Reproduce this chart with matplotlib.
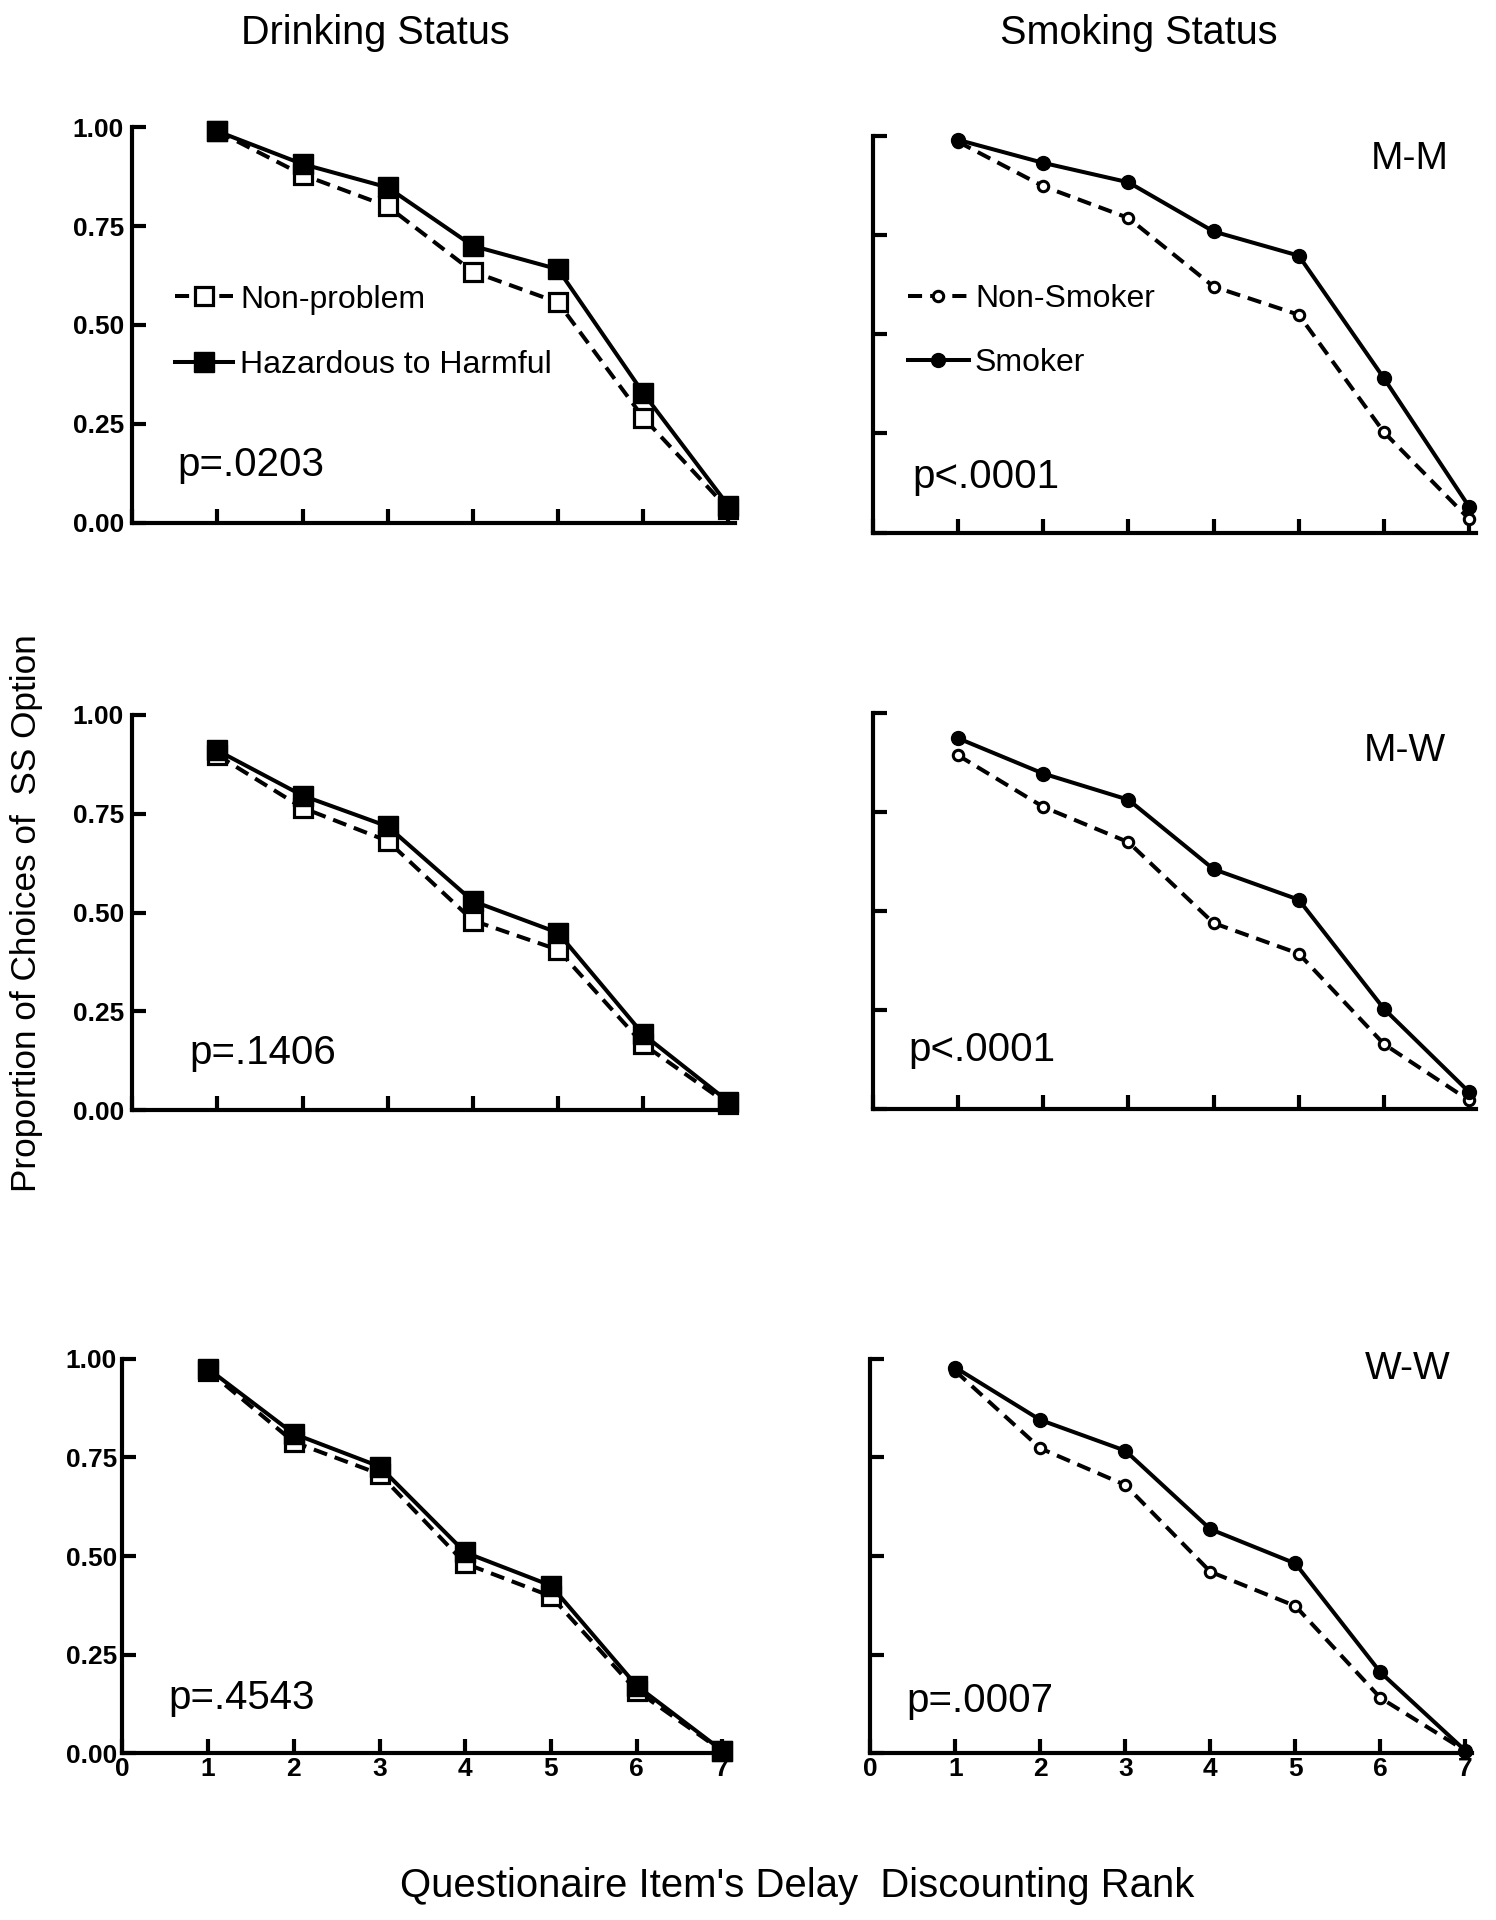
import matplotlib
matplotlib.use("Agg")
import matplotlib.pyplot as plt
from matplotlib import font_manager

# ---- data ----
RANK = [1, 2, 3, 4, 5, 6, 7]
X_TICKS = [0, 1, 2, 3, 4, 5, 6, 7]
Y_TICKS = [0.0, 0.25, 0.5, 0.75, 1.0]
Y_TICK_LABELS = ["0.00", "0.25", "0.50", "0.75", "1.00"]

DRINK_LABELS = ["Non-problem", "Hazardous to Harmful"]
SMOKE_LABELS = ["Non-Smoker", "Smoker"]
PAIR_LABELS = ["M-M", "M-W", "W-W"]

drink_mm_nonproblem = [0.99, 0.88, 0.80, 0.635, 0.557, 0.266, 0.034]
drink_mm_hazardous = [0.99, 0.907, 0.848, 0.70, 0.641, 0.328, 0.043]
smoke_mm_nonsmoker = [0.985, 0.873, 0.793, 0.62, 0.549, 0.253, 0.034]
smoke_mm_smoker = [0.99, 0.932, 0.883, 0.759, 0.698, 0.389, 0.065]

drink_mw_nonproblem = [0.898, 0.765, 0.681, 0.48, 0.406, 0.167, 0.015]
drink_mw_hazardous = [0.91, 0.796, 0.718, 0.529, 0.449, 0.192, 0.022]
smoke_mw_nonsmoker = [0.892, 0.762, 0.673, 0.469, 0.392, 0.164, 0.022]
smoke_mw_smoker = [0.935, 0.846, 0.78, 0.605, 0.528, 0.253, 0.043]

drink_ww_nonproblem = [0.97, 0.789, 0.708, 0.481, 0.398, 0.158, 0.005]
drink_ww_hazardous = [0.975, 0.81, 0.727, 0.509, 0.425, 0.171, 0.006]
smoke_ww_nonsmoker = [0.969, 0.773, 0.68, 0.46, 0.373, 0.14, 0.006]
smoke_ww_smoker = [0.978, 0.845, 0.767, 0.568, 0.481, 0.205, 0.006]

P_DRINK = ["p=.0203", "p=.1406", "p=.4543"]
P_SMOKE = ["p<.0001", "p<.0001", "p=.0007"]

# ---- layout (pixels in the 1496x1920 canvas) ----
W, H = 1496, 1920
# left, top, width, bottom
RECTS = {
    "tl": (132.2, 127.3, 603.0, 522.7),
    "tr": (872.9, 135.9, 603.0, 532.5),
    "ml": (132.2, 714.9, 603.0, 1110.3),
    "mr": (872.9, 712.5, 603.0, 1109.1),
    "bl": (122.4, 1358.9, 606.8, 1753.1),
    "br": (870.4, 1358.9, 601.8, 1753.1),
}

avail = {f.name for f in font_manager.fontManager.ttflist}
SANS = "Liberation Sans" if "Liberation Sans" in avail else "DejaVu Sans"
NARROW = "Liberation Sans Narrow" if "Liberation Sans Narrow" in avail else SANS
plt.rcParams["font.family"] = SANS

LW = 2.9


def add_axes(fig, key):
    left, top, width, bottom = RECTS[key]
    return fig.add_axes([left / W, 1 - bottom / H, width / W, (bottom - top) / H])


def style_axes(ax, show_ylabels, show_xlabels, ypad):
    ax.set_xlim(0, 7.08)
    ax.set_ylim(0, 1.0)
    for side in ("top", "right"):
        ax.spines[side].set_visible(False)
    for side in ("left", "bottom"):
        ax.spines[side].set_linewidth(3.0)
    ax.set_xticks(X_TICKS)
    ax.set_yticks(Y_TICKS)
    ax.tick_params(direction="in", length=10, width=3.0)
    ax.tick_params(axis="y", pad=ypad)
    ax.tick_params(axis="x", pad=3)
    if show_ylabels:
        ax.set_yticklabels(Y_TICK_LABELS, fontsize=19, fontweight="bold", family=NARROW)
    else:
        ax.set_yticklabels([])
    if show_xlabels:
        ax.set_xticklabels([str(t) for t in X_TICKS], fontsize=19, fontweight="bold", family=NARROW)
    else:
        ax.set_xticklabels([])


def plot_drink(ax, nonproblem, hazardous):
    ax.plot(RANK, nonproblem, linestyle=(0, (3.5, 2)), color="black", linewidth=LW,
            marker="s", markersize=12.5, markerfacecolor="white", markeredgecolor="black",
            markeredgewidth=2.3, clip_on=False, label=DRINK_LABELS[0], zorder=3)
    ax.plot(RANK, hazardous, linestyle="-", color="black", linewidth=LW,
            marker="s", markersize=14, markerfacecolor="black", markeredgecolor="black",
            clip_on=False, label=DRINK_LABELS[1], zorder=4)


def plot_smoke(ax, nonsmoker, smoker):
    ax.plot(RANK, nonsmoker, linestyle=(0, (3.5, 2)), color="black", linewidth=LW,
            marker="o", markersize=7.5, markerfacecolor="white", markeredgecolor="black",
            markeredgewidth=2.2, clip_on=False, label=SMOKE_LABELS[0], zorder=3)
    ax.plot(RANK, smoker, linestyle="-", color="black", linewidth=LW,
            marker="o", markersize=10, markerfacecolor="black", markeredgecolor="black",
            clip_on=False, label=SMOKE_LABELS[1], zorder=4)


fig = plt.figure(figsize=(W / 100, H / 100), dpi=100)

ax_tl = add_axes(fig, "tl")
ax_tr = add_axes(fig, "tr")
ax_ml = add_axes(fig, "ml")
ax_mr = add_axes(fig, "mr")
ax_bl = add_axes(fig, "bl")
ax_br = add_axes(fig, "br")

plot_drink(ax_tl, drink_mm_nonproblem, drink_mm_hazardous)
plot_drink(ax_ml, drink_mw_nonproblem, drink_mw_hazardous)
plot_drink(ax_bl, drink_ww_nonproblem, drink_ww_hazardous)
plot_smoke(ax_tr, smoke_mm_nonsmoker, smoke_mm_smoker)
plot_smoke(ax_mr, smoke_mw_nonsmoker, smoke_mw_smoker)
plot_smoke(ax_br, smoke_ww_nonsmoker, smoke_ww_smoker)

style_axes(ax_tl, True, False, 6)
style_axes(ax_ml, True, False, 6)
style_axes(ax_bl, True, True, 4)
style_axes(ax_tr, False, False, 6)
style_axes(ax_mr, False, False, 6)
style_axes(ax_br, False, True, 4)

# legends
ax_tl.legend(loc="center left", bbox_to_anchor=(0.071, 0.482), frameon=False,
             fontsize=23, handlelength=1.8, handletextpad=0.25, labelspacing=1.1,
             borderpad=0, borderaxespad=0)
ax_tr.legend(loc="center left", bbox_to_anchor=(0.058, 0.508), frameon=False,
             fontsize=23, handlelength=1.9, handletextpad=0.2, labelspacing=1.05,
             borderpad=0, borderaxespad=0)

# p-values
for ax, txt, pos in [
    (ax_tl, P_DRINK[0], (0.075, 0.146)),
    (ax_ml, P_DRINK[1], (0.0955, 0.145)),
    (ax_bl, P_DRINK[2], (0.075, 0.14)),
    (ax_tr, P_SMOKE[0], (0.065, 0.139)),
    (ax_mr, P_SMOKE[1], (0.059, 0.148)),
    (ax_br, P_SMOKE[2], (0.059, 0.131)),
]:
    ax.text(pos[0], pos[1], txt, transform=ax.transAxes, fontsize=29,
            ha="left", va="center")

# pairing labels
for ax, txt, pos in [
    (ax_tr, PAIR_LABELS[0], (0.891, 0.942)),
    (ax_mr, PAIR_LABELS[1], (0.882, 0.904)),
    (ax_br, PAIR_LABELS[2], (0.893, 0.975)),
]:
    ax.text(pos[0], pos[1], txt, transform=ax.transAxes, fontsize=28,
            ha="center", va="center")

# column titles and shared axis labels
fig.text(375 / W, 1 - 33 / H, "Drinking Status", fontsize=28.5, ha="center", va="center")
fig.text(1139 / W, 1 - 33 / H, "Smoking Status", fontsize=28.5, ha="center", va="center")
fig.text(27 / W, 1 - 913 / H, "Proportion of Choices of  SS Option", fontsize=25.3,
         rotation=90, ha="center", va="center")
fig.text(797 / W, 1 - 1886 / H, "Questionaire Item's Delay  Discounting Rank",
         fontsize=28.9, ha="center", va="center")

fig.savefig("out.png", dpi=100, facecolor="white")
